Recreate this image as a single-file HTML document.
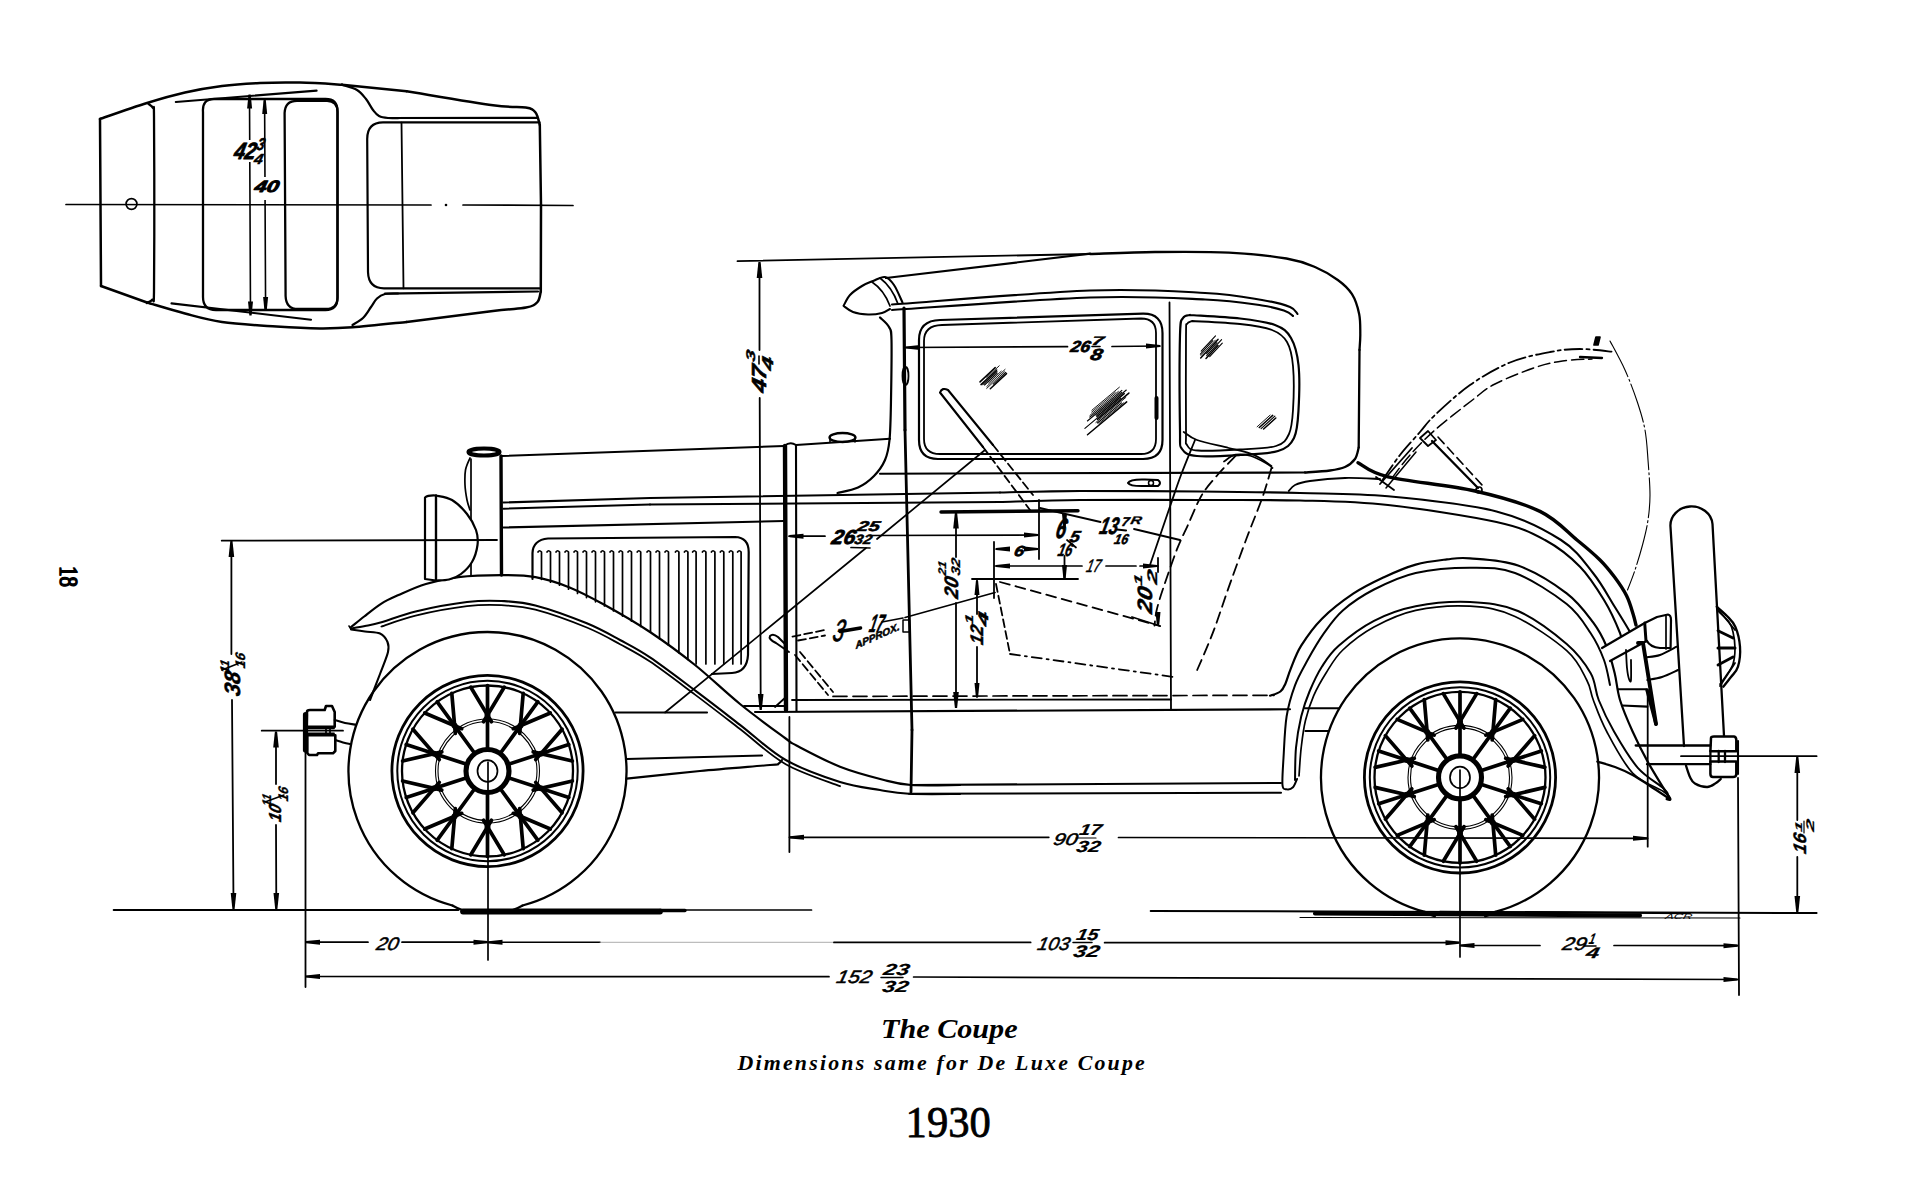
<!DOCTYPE html>
<html><head><meta charset="utf-8"><title>The Coupe 1930</title>
<style>html,body{margin:0;padding:0;background:#fff;overflow:hidden;width:1928px;height:1201px}svg{display:block}</style>
</head><body>
<svg width="1928" height="1201" viewBox="0 0 1928 1201" fill="none" stroke="#000" stroke-linecap="round" stroke-linejoin="round"><rect width="1928" height="1201" fill="#fff" stroke="none"/><g><line x1="66" y1="204.5" x2="431" y2="205" stroke-width="1.7"/>
<circle cx="446" cy="205" r="1.3" stroke-width="0" fill="#000"/>
<line x1="463" y1="205" x2="573" y2="205.5" stroke-width="1.7"/>
<path d="M100,119 C107.8,116.3 132.8,107.4 147,103 C161.2,98.6 172.5,95.3 185,92.5 C197.5,89.7 209.5,87.6 222,86 C234.5,84.4 247,83.6 260,83 C273,82.4 286.3,82.3 300,82.6 C313.7,82.9 335,84.3 342,84.7" stroke-width="2.5"/>
<path d="M342,84.7 L406.6,91.2" stroke-width="2.5"/>
<path d="M406.6,91.2 C421,93.5 473.1,102.6 493,105.3 C512.9,108 518.6,106.4 525.7,107.6 C532.8,108.8 533.1,109.6 535.5,112.5 C537.9,115.4 539.1,122.8 539.8,124.8" stroke-width="2.5"/>
<line x1="539.8" y1="124.8" x2="541" y2="205" stroke-width="2.5"/>
<line x1="541" y1="205" x2="540.8" y2="291.5" stroke-width="2.5"/>
<path d="M540.8,291.5 C540.2,293.2 540,299.3 537.5,302 C535,304.7 533.4,306.1 526,307.6 C518.6,309.1 512.9,308.6 493,311 C473.1,313.4 421,320.1 406.6,321.9" stroke-width="2.5"/>
<path d="M406.6,321.9 C397.6,322.8 366.9,326.2 352.5,327.3 C338.1,328.4 332.7,328.5 320,328.4 C307.3,328.3 292.8,327.6 276.5,326.5 C260.2,325.4 237.2,324.2 222,322 C206.8,319.8 197.5,316.8 185,313.5 C172.5,310.2 153.3,304.3 147,302.5" stroke-width="2.5"/>
<line x1="147" y1="302.5" x2="101" y2="286" stroke-width="2.5"/>
<line x1="100" y1="119" x2="101" y2="286" stroke-width="2.5"/>
<path d="M148,103.5 C148.8,104.2 152,105.9 153,108 C154,110.1 153.8,100.7 154,116 C154.2,131.3 154.3,170.7 154.3,200 C154.3,229.3 154.3,275.4 154,292 C153.7,308.6 153.7,297.7 152.5,299.5 C151.3,301.3 147.9,302.4 147,303" stroke-width="2.3"/>
<circle cx="131.5" cy="204" r="5.4" stroke-width="1.7"/>
<path d="M214,99 H325.5 Q337.5,99 337.5,111 V298 Q337.5,310 325.5,310 H216 Q203,310 203,297 V112 Q202,99 214,99Z" stroke-width="2.3"/>
<path d="M297,100.8 H327 Q337.5,100.8 337.5,112 V297 Q337.5,309 326,309 H298 Q286,309 285.6,296 L284.6,113 Q285,100.8 297,100.8Z" stroke-width="2.3"/>
<line x1="175.8" y1="102" x2="316.6" y2="90.6" stroke-width="2.1"/>
<line x1="171.5" y1="303.4" x2="311" y2="319.7" stroke-width="2.1"/>
<path d="M342,84.7 C344.5,85.6 353,87.6 357,90 C361,92.4 363.3,95.7 366,99 C368.7,102.3 370.8,107.2 373,110 C375.2,112.8 376.5,114.7 379,116 C381.5,117.3 384.5,117.7 388,118 C391.5,118.3 398,118 400,118" stroke-width="2.2"/>
<line x1="388" y1="118" x2="537" y2="117.8" stroke-width="2.2"/>
<path d="M352.5,325 C354.2,323.8 359.9,321 363,318 C366.1,315 368.7,310.2 371,307 C373.3,303.8 374.7,300.7 377,298.5 C379.3,296.3 381.5,294.8 385,294 C388.5,293.2 395.8,293.6 398,293.5" stroke-width="2.2"/>
<line x1="385" y1="293.7" x2="538" y2="291.5" stroke-width="2.2"/>
<path d="M539.5,122.4 H383 Q367.2,122.6 367.2,139 L368,272 Q368.5,288.3 384,288.3 H539.5" stroke-width="2.2"/>
<line x1="401.5" y1="122.6" x2="403.5" y2="288.3" stroke-width="1.8"/>
<line x1="249.5" y1="96" x2="250.5" y2="314" stroke-width="1.6"/>
<path d="M250.7,94.5 L252.1,108.5 L247.1,108.5 L248.5,94.5Z" fill="#000" stroke="none"/>
<path d="M249.4,315.5 L248,301.5 L253,301.5 L251.6,315.5Z" fill="#000" stroke="none"/>
<line x1="264.6" y1="101" x2="265.6" y2="310" stroke-width="1.6"/>
<path d="M265.8,100 L267.2,114 L262.2,114 L263.6,100Z" fill="#000" stroke="none"/>
<path d="M264.5,311 L263.1,297 L268.1,297 L266.7,311Z" fill="#000" stroke="none"/>
<rect x="244" y="140" width="10" height="22" fill="#fff" stroke="none"/>
<rect x="258" y="177" width="14" height="23" fill="#fff" stroke="none"/>
<text fill="#000" transform="translate(233 158.6) rotate(0) skewX(-13)" x="0" y="0" font-family="Liberation Sans" font-size="23.5" font-weight="bold" font-style="italic" textLength="21.6" lengthAdjust="spacingAndGlyphs" stroke="#000" stroke-width="0.9">42</text>
<text fill="#000" transform="translate(255.9 150.4) rotate(0) skewX(-13)" x="0" y="0" font-family="Liberation Sans" font-size="17.2" font-weight="bold" font-style="italic" textLength="7.6" lengthAdjust="spacingAndGlyphs" stroke="#000" stroke-width="0.5">3</text>
<text fill="#000" transform="translate(253.3 163.8) rotate(0) skewX(-13)" x="0" y="0" font-family="Liberation Sans" font-size="14.6" font-weight="bold" font-style="italic" textLength="8.8" lengthAdjust="spacingAndGlyphs" stroke="#000" stroke-width="0.5">4</text>
<text fill="#000" transform="translate(253.7 191.8) rotate(0) skewX(-13)" x="0" y="0" font-family="Liberation Sans" font-size="16.4" font-weight="bold" font-style="italic" textLength="24.2" lengthAdjust="spacingAndGlyphs" stroke="#000" stroke-width="0.9">40</text>
<path d="M522.6,905.5 A139,139 0 1 0 452.4,905.5" stroke-width="2.3"/>
<path d="M452.4,905.5 Q458.4,909 462.4,910" stroke-width="2.1"/>
<path d="M522.6,905.5 Q516.6,909 512.6,910" stroke-width="2.1"/>
<circle cx="487.5" cy="771" r="95.6" stroke-width="2.8"/>
<circle cx="487.5" cy="771" r="90.2" stroke-width="2"/>
<circle cx="487.5" cy="771" r="85.5" stroke-width="2.3"/>
<circle cx="487.5" cy="771" r="49.5" stroke-width="1.1"/>
<circle cx="487.5" cy="771" r="52" stroke-width="1.1"/>
<line x1="487.5" y1="750" x2="487.5" y2="685.5" stroke-width="3.7"/>
<line x1="491.5" y1="721.7" x2="470.8" y2="687.2" stroke-width="3.7"/>
<line x1="483.5" y1="721.7" x2="504.2" y2="687.2" stroke-width="3.7"/>
<circle cx="487.5" cy="715" r="3" stroke-width="0" fill="#000"/>
<line x1="499.8" y1="754" x2="537.8" y2="701.8" stroke-width="3.7"/>
<line x1="519.7" y1="733.4" x2="523.2" y2="693.3" stroke-width="3.7"/>
<line x1="513.3" y1="728.7" x2="550.3" y2="713" stroke-width="3.7"/>
<circle cx="520.4" cy="725.7" r="3" stroke-width="0" fill="#000"/>
<line x1="507.5" y1="764.5" x2="568.8" y2="744.6" stroke-width="3.7"/>
<line x1="535.7" y1="759.6" x2="562.1" y2="729.2" stroke-width="3.7"/>
<line x1="533.2" y1="751.9" x2="572.4" y2="761" stroke-width="3.7"/>
<circle cx="540.8" cy="753.7" r="3" stroke-width="0" fill="#000"/>
<line x1="507.5" y1="777.5" x2="568.8" y2="797.4" stroke-width="3.7"/>
<line x1="533.2" y1="790.1" x2="572.4" y2="781" stroke-width="3.7"/>
<line x1="535.7" y1="782.4" x2="562.1" y2="812.8" stroke-width="3.7"/>
<circle cx="540.8" cy="788.3" r="3" stroke-width="0" fill="#000"/>
<line x1="499.8" y1="788" x2="537.8" y2="840.2" stroke-width="3.7"/>
<line x1="513.3" y1="813.3" x2="550.3" y2="829" stroke-width="3.7"/>
<line x1="519.7" y1="808.6" x2="523.2" y2="848.7" stroke-width="3.7"/>
<circle cx="520.4" cy="816.3" r="3" stroke-width="0" fill="#000"/>
<line x1="487.5" y1="792" x2="487.5" y2="856.5" stroke-width="3.7"/>
<line x1="483.5" y1="820.3" x2="504.2" y2="854.8" stroke-width="3.7"/>
<line x1="491.5" y1="820.3" x2="470.8" y2="854.8" stroke-width="3.7"/>
<circle cx="487.5" cy="827" r="3" stroke-width="0" fill="#000"/>
<line x1="475.2" y1="788" x2="437.2" y2="840.2" stroke-width="3.7"/>
<line x1="455.3" y1="808.6" x2="451.8" y2="848.7" stroke-width="3.7"/>
<line x1="461.7" y1="813.3" x2="424.7" y2="829" stroke-width="3.7"/>
<circle cx="454.6" cy="816.3" r="3" stroke-width="0" fill="#000"/>
<line x1="467.5" y1="777.5" x2="406.2" y2="797.4" stroke-width="3.7"/>
<line x1="439.3" y1="782.4" x2="412.9" y2="812.8" stroke-width="3.7"/>
<line x1="441.8" y1="790.1" x2="402.6" y2="781" stroke-width="3.7"/>
<circle cx="434.2" cy="788.3" r="3" stroke-width="0" fill="#000"/>
<line x1="467.5" y1="764.5" x2="406.2" y2="744.6" stroke-width="3.7"/>
<line x1="441.8" y1="751.9" x2="402.6" y2="761" stroke-width="3.7"/>
<line x1="439.3" y1="759.6" x2="412.9" y2="729.2" stroke-width="3.7"/>
<circle cx="434.2" cy="753.7" r="3" stroke-width="0" fill="#000"/>
<line x1="475.2" y1="754" x2="437.2" y2="701.8" stroke-width="3.7"/>
<line x1="461.7" y1="728.7" x2="424.7" y2="713" stroke-width="3.7"/>
<line x1="455.3" y1="733.4" x2="451.8" y2="693.3" stroke-width="3.7"/>
<circle cx="454.6" cy="725.7" r="3" stroke-width="0" fill="#000"/>
<circle cx="487.5" cy="771" r="21.5" stroke-width="5.1" fill="#fff"/>
<ellipse cx="487.5" cy="771" rx="10" ry="10.8" stroke-width="1.7"/>
<path d="M1495.1,911.9 A139,139 0 1 0 1424.9,911.9" stroke-width="2.3"/>
<path d="M1424.9,911.9 Q1430.9,915.4 1434.9,916.4" stroke-width="2.1"/>
<path d="M1495.1,911.9 Q1489.1,915.4 1485.1,916.4" stroke-width="2.1"/>
<circle cx="1460" cy="777.4" r="95.6" stroke-width="2.8"/>
<circle cx="1460" cy="777.4" r="90.2" stroke-width="2"/>
<circle cx="1460" cy="777.4" r="85.5" stroke-width="2.3"/>
<circle cx="1460" cy="777.4" r="49.5" stroke-width="1.1"/>
<circle cx="1460" cy="777.4" r="52" stroke-width="1.1"/>
<line x1="1460" y1="756.4" x2="1460" y2="691.9" stroke-width="3.7"/>
<line x1="1464" y1="728.1" x2="1443.3" y2="693.6" stroke-width="3.7"/>
<line x1="1456" y1="728.1" x2="1476.7" y2="693.6" stroke-width="3.7"/>
<circle cx="1460" cy="721.4" r="3" stroke-width="0" fill="#000"/>
<line x1="1472.3" y1="760.4" x2="1510.3" y2="708.2" stroke-width="3.7"/>
<line x1="1492.2" y1="739.8" x2="1495.7" y2="699.7" stroke-width="3.7"/>
<line x1="1485.8" y1="735.1" x2="1522.8" y2="719.4" stroke-width="3.7"/>
<circle cx="1492.9" cy="732.1" r="3" stroke-width="0" fill="#000"/>
<line x1="1480" y1="770.9" x2="1541.3" y2="751" stroke-width="3.7"/>
<line x1="1508.2" y1="766" x2="1534.6" y2="735.6" stroke-width="3.7"/>
<line x1="1505.7" y1="758.3" x2="1544.9" y2="767.4" stroke-width="3.7"/>
<circle cx="1513.3" cy="760.1" r="3" stroke-width="0" fill="#000"/>
<line x1="1480" y1="783.9" x2="1541.3" y2="803.8" stroke-width="3.7"/>
<line x1="1505.7" y1="796.5" x2="1544.9" y2="787.4" stroke-width="3.7"/>
<line x1="1508.2" y1="788.8" x2="1534.6" y2="819.2" stroke-width="3.7"/>
<circle cx="1513.3" cy="794.7" r="3" stroke-width="0" fill="#000"/>
<line x1="1472.3" y1="794.4" x2="1510.3" y2="846.6" stroke-width="3.7"/>
<line x1="1485.8" y1="819.7" x2="1522.8" y2="835.4" stroke-width="3.7"/>
<line x1="1492.2" y1="815" x2="1495.7" y2="855.1" stroke-width="3.7"/>
<circle cx="1492.9" cy="822.7" r="3" stroke-width="0" fill="#000"/>
<line x1="1460" y1="798.4" x2="1460" y2="862.9" stroke-width="3.7"/>
<line x1="1456" y1="826.7" x2="1476.7" y2="861.2" stroke-width="3.7"/>
<line x1="1464" y1="826.7" x2="1443.3" y2="861.2" stroke-width="3.7"/>
<circle cx="1460" cy="833.4" r="3" stroke-width="0" fill="#000"/>
<line x1="1447.7" y1="794.4" x2="1409.7" y2="846.6" stroke-width="3.7"/>
<line x1="1427.8" y1="815" x2="1424.3" y2="855.1" stroke-width="3.7"/>
<line x1="1434.2" y1="819.7" x2="1397.2" y2="835.4" stroke-width="3.7"/>
<circle cx="1427.1" cy="822.7" r="3" stroke-width="0" fill="#000"/>
<line x1="1440" y1="783.9" x2="1378.7" y2="803.8" stroke-width="3.7"/>
<line x1="1411.8" y1="788.8" x2="1385.4" y2="819.2" stroke-width="3.7"/>
<line x1="1414.3" y1="796.5" x2="1375.1" y2="787.4" stroke-width="3.7"/>
<circle cx="1406.7" cy="794.7" r="3" stroke-width="0" fill="#000"/>
<line x1="1440" y1="770.9" x2="1378.7" y2="751" stroke-width="3.7"/>
<line x1="1414.3" y1="758.3" x2="1375.1" y2="767.4" stroke-width="3.7"/>
<line x1="1411.8" y1="766" x2="1385.4" y2="735.6" stroke-width="3.7"/>
<circle cx="1406.7" cy="760.1" r="3" stroke-width="0" fill="#000"/>
<line x1="1447.7" y1="760.4" x2="1409.7" y2="708.2" stroke-width="3.7"/>
<line x1="1434.2" y1="735.1" x2="1397.2" y2="719.4" stroke-width="3.7"/>
<line x1="1427.8" y1="739.8" x2="1424.3" y2="699.7" stroke-width="3.7"/>
<circle cx="1427.1" cy="732.1" r="3" stroke-width="0" fill="#000"/>
<circle cx="1460" cy="777.4" r="21.5" stroke-width="5.1" fill="#fff"/>
<ellipse cx="1460" cy="777.4" rx="10" ry="10.8" stroke-width="1.7"/>
<path d="M350.5,627.5 C352.8,625.7 359.1,620.5 364.2,616.5 C369.3,612.5 375.7,607.2 381.4,603.6 C387.1,600 391.1,598.4 398.5,595.1 C405.9,591.8 415.9,587 425.9,584 C435.9,581 445.8,578.6 458.4,577.1 C470.9,575.6 488.4,575.1 501.2,575.1 C514,575.1 524,575.1 535.4,577.1 C546.8,579.1 558.2,582.8 569.6,587.4 C581,592 590.5,597.1 603.9,604.5 C617.3,611.9 634.8,621.9 650,632 C665.2,642.1 680,653 695,665 C710,677 725,691.8 740,704 C755,716.2 775.6,731.1 785,738 C794.4,744.9 787.3,740.7 796.5,745.5 C805.7,750.3 825.6,761 840,766.7 C854.4,772.4 871.2,776.7 883,779.7 C894.8,782.8 898.2,784.1 911,785 C923.8,785.9 951.8,785 960,785" stroke-width="2.2"/>
<path d="M351,628.5 C353.3,628.1 359.9,627 365,626 C370.1,625 373,624.7 381.4,622.3 C389.8,619.9 401.3,614.8 415.6,611.4 C429.9,608 452.7,603.7 467,602 C481.3,600.3 489.8,600.4 501.2,601 C512.6,601.6 521.1,601.7 535.4,605.4 C549.7,609.1 572.7,617.5 586.8,623.3 C600.9,629.1 609.5,634.3 620,640 C630.5,645.7 637.5,649 650,657.4 C662.5,665.8 680,679.2 695,690.4 C710,701.6 724.9,713.2 740,724.8 C755.1,736.4 769,750.5 785.7,760 C802.4,769.5 824.3,777 840,782 C855.7,787 868.5,788 880,790 C891.5,792 895.7,793.1 909,793.8 C922.3,794.5 951.5,794 960,794" stroke-width="2.1"/>
<path d="M381.4,626.5 C387.1,624.7 401.3,619 415.6,615.6 C429.9,612.2 452.7,607.9 467,606.2 C481.3,604.5 489.8,604.6 501.2,605.2 C512.6,605.8 521.1,605.9 535.4,609.6 C549.7,613.3 572.7,621.7 586.8,627.5 C600.9,633.3 609.5,638.5 620,644.2 C630.5,649.9 637.5,653.2 650,661.6 C662.5,670 680,683.4 695,694.6 C710,705.8 724.9,717.4 740,729 C755.1,740.6 769,754.7 785.7,764.2 C802.4,773.7 831,782.5 840,786.2" stroke-width="1.8"/>
<path d="M351,629.5 C353.3,629.8 360.2,630.8 365,631.5 C369.8,632.2 376.2,631.8 380,633.5 C383.8,635.2 386.2,638.9 387.5,642 C388.8,645.1 389.2,646.7 388,652 C386.8,657.3 383,666 380,674 C377,682 371.7,695.7 370,700" stroke-width="2.1"/>
<line x1="351" y1="629" x2="349" y2="626" stroke-width="1.6"/>
<line x1="911" y1="785" x2="1281" y2="783" stroke-width="2.1"/>
<line x1="909" y1="793.8" x2="1281" y2="792.7" stroke-width="2.1"/>
<line x1="615.5" y1="712.5" x2="707" y2="712.5" stroke-width="2.1"/>
<line x1="755" y1="712" x2="1290" y2="709.3" stroke-width="2.1"/>
<line x1="792" y1="700" x2="1171" y2="699.5" stroke-width="1.8"/>
<line x1="744" y1="706" x2="785" y2="706" stroke-width="1.8"/>
<line x1="833" y1="696.4" x2="1274" y2="695.3" stroke-width="1.7" stroke-dasharray="14 6"/>
<line x1="626.6" y1="759" x2="762" y2="755.5" stroke-width="2.1"/>
<path d="M626.6,778.6 C638.8,777.3 676.1,773.3 700,771 C723.9,768.7 757,766.2 770,765 C783,763.8 776,764.8 778,764 C780,763.2 781.3,760.7 782,760" stroke-width="2.1"/>
<path d="M1270,695.7 C1271.7,695 1277.8,693.6 1280.4,691.5 C1283,689.4 1283.9,687 1285.6,683.2 C1287.3,679.4 1288.2,674.9 1290.8,668.6 C1293.4,662.4 1296,654 1301.2,645.7 C1306.4,637.4 1313.3,627.4 1322,618.7 C1330.7,610 1342.8,600.7 1353.2,593.7 C1363.6,586.8 1374.1,581.9 1384.5,577 C1394.9,572.1 1405.3,567.5 1415.7,564.6 C1426.1,561.7 1437.9,560.5 1446.9,559.4 C1456,558.3 1458.2,557.3 1470,558.3 C1481.8,559.3 1501.9,559.7 1518,565.5 C1534.1,571.3 1554.2,583.8 1566.7,593.3 C1579.2,602.8 1586.6,613.8 1593.3,622.7 C1600,631.6 1603.1,638.3 1606.7,646.7 C1610.3,655.1 1612.5,664.4 1614.7,673.3 C1616.9,682.2 1617,690.3 1620,700 C1623,709.7 1627.9,721.1 1632.6,731.5 C1637.3,741.9 1642.1,751.7 1648.2,762.6 C1654.3,773.5 1665.5,791.3 1669,797" stroke-width="2.2"/>
<path d="M1297,779 C1296.3,780.4 1294.7,785.6 1293,787.3 C1291.3,789 1288.3,789.6 1286.6,789.3 C1284.8,788.9 1283,790.4 1282.5,785.2 C1282,780 1282.8,769.5 1283.5,758 C1284.2,746.5 1284.7,728.6 1286.6,716.5 C1288.5,704.4 1291.5,694.7 1295,685.3 C1298.5,675.9 1302.7,669 1307.5,660.3 C1312.3,651.6 1318.1,641.5 1324,633.2 C1329.9,624.9 1334.5,617.7 1342.8,610.4 C1351.1,603.1 1361.8,595.8 1374,589.5 C1386.2,583.2 1399.7,576.5 1415.7,572.9 C1431.7,569.3 1453.5,567.7 1470,567.7 C1486.5,567.7 1498.9,567 1515,573 C1531.1,579 1554.1,594 1566.7,604 C1579.3,614 1584.5,624 1590.7,633.3 C1596.9,642.6 1600.8,651.4 1604,660 C1607.2,668.6 1609,680.8 1610,685" stroke-width="2"/>
<path d="M1295,780 C1295.2,774.6 1295,758.3 1296,747.7 C1297,737.1 1299,725.9 1301.2,716.5 C1303.5,707.1 1306,699.8 1309.5,691.5 C1313,683.2 1317.1,674.1 1322,666.5 C1326.9,658.9 1330,653.3 1338.7,645.7 C1347.4,638.1 1361.2,627.4 1374,620.8 C1386.8,614.2 1399.7,609.3 1415.7,606.2 C1431.7,603.1 1453,601.2 1470,602 C1487,602.8 1501.9,604 1518,611 C1534.1,618 1554.6,633.6 1566.7,644 C1578.8,654.4 1585.4,664 1590.7,673.3 C1596,682.6 1594.8,690.3 1598.7,700 C1602.6,709.7 1607.5,720.2 1614,731.5 C1620.5,742.8 1629.5,758.3 1637.8,767.8 C1646.1,777.3 1658.5,783.6 1663.7,788.5 C1668.9,793.4 1668.1,795.6 1669,797" stroke-width="2"/>
<path d="M1299,776 C1299.4,771.3 1300.1,756.9 1301.2,747.7 C1302.3,738.5 1303.3,729.4 1305.4,720.7 C1307.5,712 1310.2,703.7 1313.7,695.7 C1317.2,687.7 1321.4,680.4 1326.2,672.8 C1331,665.2 1334.8,657.6 1342.8,650 C1350.8,642.4 1361.8,633.6 1374,627 C1386.2,620.4 1399.7,613.9 1415.7,610.4 C1431.7,606.9 1453.5,605.2 1470,606.2 C1486.5,607.2 1498.9,609.1 1515,616.5 C1531.1,623.9 1554.8,640.1 1566.7,650.7 C1578.7,661.3 1582.3,671.8 1586.7,680 C1591.1,688.2 1590,691.4 1593.3,700 C1596.6,708.6 1600.2,719.3 1606.7,731.5 C1613.2,743.7 1623.1,763 1632.6,773 C1642.1,783 1657.5,787.5 1663.7,791.7 C1669.9,795.9 1669,797 1670,798" stroke-width="1.7"/>
<line x1="1305" y1="708.3" x2="1338.7" y2="708.3" stroke-width="2"/>
<line x1="1305.4" y1="731" x2="1328.3" y2="731" stroke-width="2"/>
<path d="M1597.3,761.6 C1600.2,762.5 1609.1,764.8 1615,767 C1620.9,769.2 1626.8,771.8 1632.6,775 C1638.4,778.2 1643.9,782.1 1650,786 C1656.1,789.9 1665.8,796.4 1669,798.5" stroke-width="2.2"/>
<path d="M1669,797 Q1672,801 1667,799" stroke-width="2.9"/>
<ellipse cx="484" cy="452" rx="15.5" ry="3.5" stroke-width="4.1"/>
<line x1="501" y1="456" x2="501.5" y2="575" stroke-width="3.4"/>
<line x1="471" y1="459" x2="471" y2="576" stroke-width="1.7"/>
<path d="M470,458 C469.2,460 466.3,465.5 465.5,470 C464.7,474.5 464.8,480 465,485 C465.2,490 466.2,495.8 467,500 C467.8,504.2 469.5,508.3 470,510" stroke-width="1.7"/>
<path d="M436,495.5 C438.7,496.2 446.8,496.9 452,500 C457.2,503.1 463,509 467,514 C471,519 474.2,524.8 476,530 C477.8,535.2 478.2,539.7 477.5,545 C476.8,550.3 474.8,557.2 472,562 C469.2,566.8 464.8,571.1 461,574 C457.2,576.9 453.2,578.4 449,579.5 C444.8,580.6 438.2,580.3 436,580.5" stroke-width="2.2" fill="#fff"/>
<path d="M425,497.5 L425,579 L436,580.5 L436,495.5 Q428,495 425,497.5Z" stroke-width="2.2" fill="#fff"/>
<line x1="436" y1="495.5" x2="436" y2="580.5" stroke-width="2.2"/>
<line x1="501.5" y1="456" x2="784" y2="446" stroke-width="2.1"/>
<line x1="503.5" y1="502.5" x2="650" y2="498" stroke-width="2.1"/>
<line x1="650" y1="498" x2="1000" y2="492.5" stroke-width="2.1"/>
<line x1="503.5" y1="508.7" x2="650" y2="504.5" stroke-width="2.1"/>
<line x1="650" y1="504.5" x2="1000" y2="502" stroke-width="2.1"/>
<line x1="503.5" y1="527.5" x2="784" y2="521" stroke-width="2.1"/>
<path d="M532.5,579 L532.5,553 Q533,540 548,538.5 L735,537 Q748.7,537.5 748.7,552 L748,655 Q747,672 732,673 L712,674" stroke-width="2.2"/>
<path d="M538,552 q1.5,-2.5 3.5,0 L541.5,579.3" stroke-width="1.7"/>
<path d="M547,552 q1.5,-2.5 3.5,0 L550.5,582.2" stroke-width="1.7"/>
<path d="M556,552 q1.5,-2.5 3.5,0 L559.5,585.2" stroke-width="1.7"/>
<path d="M565,552 q1.5,-2.5 3.5,0 L568.5,589.2" stroke-width="1.7"/>
<path d="M574,552 q1.5,-2.5 3.5,0 L577.5,593.4" stroke-width="1.7"/>
<path d="M583,552 q1.5,-2.5 3.5,0 L586.5,597.6" stroke-width="1.7"/>
<path d="M592,552 q1.5,-2.5 3.5,0 L595.5,601.8" stroke-width="1.7"/>
<path d="M601,552 q1.5,-2.5 3.5,0 L604.5,606" stroke-width="1.7"/>
<path d="M610,552 q1.5,-2.5 3.5,0 L613.5,611" stroke-width="1.7"/>
<path d="M619,552 q1.5,-2.5 3.5,0 L622.5,616.1" stroke-width="1.7"/>
<path d="M628,552 q1.5,-2.5 3.5,0 L631.5,621.2" stroke-width="1.7"/>
<path d="M637.2,552 q1.5,-2.5 3.5,0 L640.7,626.4" stroke-width="1.7"/>
<path d="M647,552 q1.5,-2.5 3.5,0 L650.5,632" stroke-width="1.7"/>
<path d="M656,552 q1.5,-2.5 3.5,0 L659.5,638.6" stroke-width="1.7"/>
<path d="M665,552 q1.5,-2.5 3.5,0 L668.5,645.2" stroke-width="1.7"/>
<path d="M675.4,552 q1.5,-2.5 3.5,0 L678.9,652.8" stroke-width="1.7"/>
<path d="M684.4,552 q1.5,-2.5 3.5,0 L687.9,659.4" stroke-width="1.7"/>
<path d="M692.6,552 q1.5,-2.5 3.5,0 L696.1,664" stroke-width="1.7"/>
<path d="M702.4,552 q1.5,-2.5 3.5,0 L705.9,664" stroke-width="1.7"/>
<path d="M711.4,552 q1.5,-2.5 3.5,0 L714.9,664" stroke-width="1.7"/>
<path d="M720.3,552 q1.5,-2.5 3.5,0 L723.8,664" stroke-width="1.7"/>
<path d="M729.3,552 q1.5,-2.5 3.5,0 L732.8,664" stroke-width="1.7"/>
<path d="M737.6,552 q1.5,-2.5 3.5,0 L741.1,664" stroke-width="1.7"/>
<line x1="785" y1="446" x2="786" y2="710" stroke-width="4.4"/>
<line x1="796" y1="445" x2="796.5" y2="711" stroke-width="2.1"/>
<path d="M784.5,446 Q790,441 796,445" stroke-width="2.1"/>
<line x1="796" y1="445" x2="890" y2="438.7" stroke-width="2.1"/>
<ellipse cx="842.5" cy="437.5" rx="13" ry="4.5" stroke-width="2.3"/>
<path d="M830,437 L830,442 M855,437 L855,442" stroke-width="1.6"/>
<path d="M880,317.5 C881.5,319.1 887.1,323.2 889,327 C890.9,330.8 891.2,327.8 891.5,340 C891.8,352.2 891.3,383.3 891,400 C890.7,416.7 890.5,430 889.5,440 C888.5,450 887.6,454 885,460 C882.4,466 878.5,471.4 874,476 C869.5,480.6 864.1,484.7 858,487.5 C851.9,490.3 840.9,492.1 837.5,493" stroke-width="2.2"/>
<line x1="904" y1="308" x2="905" y2="430" stroke-width="3.2"/>
<line x1="905" y1="430" x2="912" y2="730" stroke-width="2.8"/>
<line x1="912" y1="730" x2="911" y2="792" stroke-width="2.8"/>
<ellipse cx="905.5" cy="376" rx="3" ry="9" stroke-width="1.8"/>
<path d="M843.7,305.5 C844.8,303.8 847,298.2 850,295 C853,291.8 858.2,288.3 862,286 C865.8,283.7 869.2,282.5 873,281 C876.8,279.5 881.5,276.3 885,277 C888.5,277.7 891.1,280.8 894,285 C896.9,289.2 901.1,299.6 902.5,302.5" stroke-width="2.1"/>
<path d="M843.7,306 C845.2,307 849,310.6 853,312 C857,313.4 863.2,314.3 868,314.5 C872.8,314.7 878.3,313.9 882,313 C885.7,312.1 888.7,309.7 890,309" stroke-width="2.1"/>
<path d="M872,282 Q884,290 890,306 M880,278 Q892,287 898,304" stroke-width="1.7"/>
<line x1="886" y1="278" x2="1090" y2="253.7" stroke-width="2.2"/>
<path d="M1090,254 C1100.8,253.7 1131.8,252.2 1155,252 C1178.2,251.8 1207.1,251.5 1229,252.6 C1250.9,253.7 1272.2,256.1 1286.5,258.5 C1300.8,260.9 1306.5,263.4 1315,267 C1323.5,270.6 1331.6,275.5 1337.8,280 C1344,284.5 1348.4,288.5 1352,294.2 C1355.6,299.9 1357.8,307.4 1359.2,314.2 C1360.6,321 1360.2,329 1360.3,335 C1360.3,341 1359.6,347.5 1359.5,350" stroke-width="2.3"/>
<line x1="1359.5" y1="350" x2="1358.7" y2="447.5" stroke-width="2.3"/>
<path d="M1358.7,447.5 C1358.1,449.4 1357.3,455.8 1355,459 C1352.7,462.2 1349.2,465.1 1345,467 C1340.8,468.9 1336.7,469.6 1330,470.5 C1323.3,471.4 1309.2,472.2 1305,472.5" stroke-width="2.3"/>
<line x1="880" y1="473.7" x2="1305" y2="472.5" stroke-width="2.1"/>
<path d="M892,304.5 C925,302.2 1037.8,292.4 1090,290.5 C1142.2,288.6 1176.3,291.4 1205,293 C1233.7,294.6 1247.8,297.7 1262,300 C1276.2,302.3 1284.1,304.7 1290,307 C1295.9,309.3 1296.2,312.8 1297.5,314" stroke-width="2.1"/>
<path d="M892,310 C925,307.9 1037.8,299.2 1090,297.5 C1142.2,295.8 1176.3,298.2 1205,299.5 C1233.7,300.8 1248.7,303.6 1262,305.5 C1275.3,307.4 1279.8,309.2 1285,311 C1290.2,312.8 1291.7,315.2 1293,316" stroke-width="2.1"/>
<path d="M940,320 L1143,313.7 Q1162.5,313.5 1162.5,333 L1162.5,440 Q1162.5,459 1143,459 L938,459 Q919,459 919,440 L919,340 Q919,320.5 940,320Z" stroke-width="2.2"/>
<path d="M942,325 L1141,318.5 Q1156,318.5 1156,333 L1156,439 Q1156,454 1141,454 L940,454 Q924,454 924,439 L924,341 Q924,325.5 942,325Z" stroke-width="1.8"/>
<line x1="1156.5" y1="398" x2="1156.5" y2="418" stroke-width="4"/>
<line x1="1169.5" y1="302.5" x2="1171" y2="709" stroke-width="1.8"/>
<path d="M1190,315 C1198.3,315.6 1225.8,316.8 1240,318.5 C1254.2,320.2 1266.5,321.8 1275,325 C1283.5,328.2 1287.1,331.3 1291,338 C1294.9,344.7 1297.2,353 1298.5,365 C1299.8,377 1299.2,397.8 1298.5,410 C1297.8,422.2 1297.4,431.2 1294,438 C1290.6,444.8 1287,448.2 1278,451 C1269,453.8 1253.5,454.2 1240,455 C1226.5,455.8 1206.7,457 1197,456 C1187.3,455 1184.8,453.3 1182,449 C1179.2,444.7 1180.3,449 1180,430 C1179.7,411 1179.5,353.7 1180,335 C1180.5,316.3 1181.3,321.3 1183,318 C1184.7,314.7 1188.8,315.5 1190,315" stroke-width="2.2"/>
<path d="M1192,321 C1200,321.5 1226.7,322.5 1240,324 C1253.3,325.5 1264.2,327 1272,330 C1279.8,333 1283.5,336 1287,342 C1290.5,348 1292,354.7 1293,366 C1294,377.3 1293.7,398.7 1293,410 C1292.3,421.3 1291.8,428 1289,434 C1286.2,440 1284.2,443.4 1276,446 C1267.8,448.6 1253,448.8 1240,449.5 C1227,450.2 1206.8,451.2 1198,450.5 C1189.2,449.8 1189,448.4 1187,445 C1185,441.6 1186.2,448.2 1186,430 C1185.8,411.8 1185.8,353.7 1186,336 C1186.2,318.3 1186,326.5 1187,324 C1188,321.5 1191.2,321.5 1192,321" stroke-width="1.8"/>
<path d="M1128,483 Q1130,479 1145,479.5 L1158,480 Q1162,483 1158,486 L1145,486 Q1130,486.5 1128,483Z" stroke-width="2.1"/>
<circle cx="1151" cy="483" r="2.5" stroke-width="1.5"/>
<path d="M1000,492.5 C1013.3,492.2 1046.7,491.2 1080,491 C1113.3,490.8 1163.3,491.2 1200,491.5 C1236.7,491.8 1268.7,492.2 1300,493 C1331.3,493.8 1355.2,493.2 1388,496.3 C1420.8,499.4 1467.7,504.1 1496.5,511.4 C1525.3,518.7 1544.9,529.7 1561,540 C1577.1,550.3 1584,561.9 1593,573 C1602,584.1 1608.4,596.7 1614.7,606.7 C1621,616.8 1627.3,626.9 1630.7,633.3 C1634.1,639.7 1634.3,643 1635,645" stroke-width="2.1"/>
<path d="M1000,502 C1013.3,501.7 1046.7,500.3 1080,500 C1113.3,499.7 1163.3,499.9 1200,500 C1236.7,500.1 1268.7,499.7 1300,500.5 C1331.3,501.3 1355.2,501.4 1388,505 C1420.8,508.6 1470.3,516.2 1496.5,522 C1522.7,527.8 1531.1,532.5 1545,540 C1558.9,547.5 1570.2,556.7 1580,566.7 C1589.8,576.7 1597.3,589 1604,600 C1610.7,611 1616.7,624.7 1620,633 C1623.3,641.3 1623.3,647.2 1624,650" stroke-width="2.1"/>
<path d="M1358,462.7 C1363,465.1 1368.5,472.1 1388,476.8 C1407.5,481.5 1449.7,485.2 1475,491 C1500.3,496.8 1523,503.2 1540,511.4 C1557,519.6 1567,531.9 1577,540 C1587,548.1 1593.7,553.8 1600,560 C1606.3,566.2 1610.2,571.3 1614.7,577.3 C1619.2,583.3 1623.6,589.8 1626.7,596 C1629.8,602.2 1631.8,609.9 1633.3,614.7 C1634.8,619.5 1635.5,623.3 1636,625" stroke-width="3.4"/>
<path d="M1288.7,491 C1289.8,490 1291.5,486.7 1295,485 C1298.5,483.3 1301.7,482.2 1310,481 C1318.3,479.8 1333.3,478.3 1345,478 C1356.7,477.7 1374.2,478.8 1380,479" stroke-width="1.8"/>
<path d="M1382.5,480 C1385.4,475.8 1393.8,463 1400,455 C1406.2,447 1414.2,438.7 1420,432 C1425.8,425.3 1426.7,422.8 1435,415 C1443.3,407.2 1457.5,393.8 1470,385 C1482.5,376.2 1496.7,368 1510,362.5 C1523.3,357 1538.3,354.2 1550,352 C1561.7,349.8 1569.2,349 1580,349 C1590.8,349 1609.2,351.5 1615,352" stroke-width="1.8" stroke-dasharray="18 4 3 4"/>
<path d="M1392,478 C1395,474.2 1402.8,463 1410,455 C1417.2,447 1424.6,439.2 1435,430 C1445.4,420.8 1462.5,407.7 1472.5,400 C1482.5,392.3 1484.6,389.4 1495,384 C1505.4,378.6 1523.8,371.3 1535,367.5 C1546.2,363.7 1553,362.4 1562.5,361 C1572,359.6 1587.1,359.3 1592,359" stroke-width="1.5" stroke-dasharray="12 5"/>
<line x1="1580" y1="357" x2="1602" y2="358" stroke-width="2.3"/>
<path d="M1594,345 L1596,337 L1600,337 L1598,345Z" stroke-width="1.7" fill="#000"/>
<path d="M1610,341 C1612.5,345.8 1620.4,359.8 1625,370 C1629.6,380.2 1634.2,392.5 1637.5,402.5 C1640.8,412.5 1643.2,420.4 1645,430 C1646.8,439.6 1647.2,449.2 1648,460 C1648.8,470.8 1650,485 1650,495 C1650,505 1649.2,511.7 1648,520 C1646.8,528.3 1644.7,536.7 1642.5,545 C1640.3,553.3 1637.5,562.5 1635,570 C1632.5,577.5 1628.8,586.7 1627.5,590" stroke-width="1.1" stroke-dasharray="40 3 2 3"/>
<path d="M1420,438 L1428,431 L1436,440 L1428,446Z" stroke-width="1.8"/>
<line x1="1432" y1="441" x2="1478" y2="488" stroke-width="2.3"/>
<line x1="1438" y1="437" x2="1482" y2="485" stroke-width="1.6" stroke-dasharray="9 5"/>
<circle cx="1479" cy="490" r="3" stroke-width="1.7"/>
<line x1="1380" y1="484" x2="1412" y2="448" stroke-width="1.8"/>
<line x1="1386" y1="488" x2="1416" y2="452" stroke-width="1.5"/>
<line x1="1376" y1="477" x2="1394" y2="490" stroke-width="1.8"/>
<path d="M1235.5,455.9 C1232.5,459.1 1223.1,468.4 1217.5,475 C1211.9,481.6 1206.6,487 1201.7,495.2 C1196.8,503.4 1192.3,515.4 1188.2,524.4 C1184.1,533.4 1181.1,538.7 1177,549.2 C1172.9,559.7 1166.9,577.3 1163.5,587.4 C1160.1,597.5 1158.2,603.6 1156.7,610 C1155.2,616.4 1154.9,623 1154.5,625.6" stroke-width="1.8" stroke-dasharray="11 6"/>
<path d="M1271.4,468.2 C1269.9,473.1 1266.5,485.9 1262.4,497.5 C1258.3,509.1 1252.3,523 1246.7,538 C1241.1,553 1234.3,571.7 1228.7,587.4 C1223.1,603.1 1218.6,617.8 1213,632.4 C1207.4,647 1198,667.9 1195,675" stroke-width="1.8" stroke-dasharray="11 6"/>
<path d="M1195,440 C1192.7,445.8 1185.2,463.9 1181,475 C1176.8,486.1 1175.2,491.5 1170,506.5 C1164.8,521.5 1153.3,555.2 1150,565" stroke-width="1.8"/>
<path d="M1183.7,432 C1185.9,433.3 1189.5,437.3 1197,440 C1204.5,442.7 1219.3,445.6 1228.7,448 C1238.1,450.4 1246.3,451.7 1253.4,454.7 C1260.5,457.7 1268.4,464.1 1271.4,466" stroke-width="1.8"/>
<path d="M1224,461.5 C1225.9,460.4 1231,455.6 1235.5,454.7 C1240,453.8 1245.8,454.5 1251,456 C1256.2,457.5 1263.4,461.7 1267,463.7 C1270.6,465.7 1271.6,467.3 1272.5,468" stroke-width="1.7"/>
<path d="M1684,746 L1670.5,527 A21,19 0 0 1 1712.5,524 L1724,736" stroke-width="2.3"/>
<path d="M1686,765.7 C1686.7,767.6 1688.5,774 1690,777 C1691.5,780 1692,781.7 1694.9,783.4 C1697.8,785.1 1703.8,787.1 1707.3,787 C1710.8,786.9 1713.8,784.3 1716,783 C1718.2,781.7 1720,779.7 1720.8,779" stroke-width="2.3"/>
<path d="M1716.7,606.7 C1718.4,608.2 1723.9,612.7 1727,616 C1730.1,619.3 1733.1,621.6 1735.3,626.7 C1737.5,631.8 1739.5,640 1740,646.7 C1740.5,653.4 1739.5,661.7 1738,666.7 C1736.5,671.8 1733.5,673.7 1731,677 C1728.5,680.3 1724.6,685.1 1723.3,686.7" stroke-width="2.3"/>
<path d="M1718,611 C1719.8,612.8 1726.5,618.5 1729,622 C1731.5,625.5 1732,627.7 1733,632 C1734,636.3 1735,642.7 1735,648 C1735,653.3 1734.5,659.3 1733,664 C1731.5,668.7 1728.2,672.7 1726,676 C1723.8,679.3 1721,682.7 1720,684" stroke-width="1.7"/>
<line x1="1718" y1="630.7" x2="1733" y2="638" stroke-width="2.8"/>
<line x1="1718" y1="648" x2="1735" y2="648" stroke-width="3"/>
<line x1="1718" y1="665" x2="1733" y2="657" stroke-width="2.8"/>
<line x1="1717" y1="608" x2="1735" y2="630" stroke-width="1.8"/>
<line x1="1720" y1="686" x2="1735" y2="663" stroke-width="1.8"/>
<path d="M1644.7,623 L1657,617 L1668,614.5 Q1671,615 1671,620 L1670.6,648 L1660,648 Q1650,647 1647,641" stroke-width="2.2" fill="#fff"/>
<line x1="1666" y1="616" x2="1666" y2="649" stroke-width="1.7"/>
<path d="M1602,648 L1644,623.5 L1646,641.3 L1610,661 Z" stroke-width="0" fill="#fff" stroke="none"/>
<line x1="1602" y1="648" x2="1643" y2="624" stroke-width="2.2"/>
<line x1="1610" y1="661" x2="1646" y2="641.3" stroke-width="2.2"/>
<line x1="1644.7" y1="623" x2="1646" y2="641" stroke-width="3"/>
<path d="M1646,657.3 C1648.3,656.9 1654.9,656.8 1660,655 C1665.1,653.2 1673.9,648.1 1676.7,646.7" stroke-width="2"/>
<path d="M1647.3,680 C1649.8,679.5 1656.9,678.7 1662,677 C1667.1,675.3 1675.3,671.2 1678,670" stroke-width="2"/>
<path d="M1638,643 L1643,643 L1656,724" stroke-width="3.9"/>
<path d="M1626,650 C1626.2,653 1626.5,663.2 1627,668 C1627.5,672.8 1628.3,677 1629,679 C1629.7,681 1630.7,683.2 1631,680 C1631.3,676.8 1631,663.3 1631,660" stroke-width="1.8"/>
<line x1="1618" y1="689.3" x2="1646" y2="689.3" stroke-width="2.1"/>
<line x1="1622" y1="705.5" x2="1647.3" y2="706.6" stroke-width="2.1"/>
<line x1="1647.7" y1="690" x2="1647.7" y2="846.7" stroke-width="1.8"/>
<line x1="1647" y1="690" x2="1656" y2="724" stroke-width="3.4"/>
<path d="M1711,738 Q1711,736.5 1714,736.5 L1734,736.5 Q1736.3,737 1736.3,740 L1736.3,751.2 L1710.4,751.2 Z" stroke-width="2.5"/>
<path d="M1710.4,761.6 L1736.3,761.6 L1736.3,774 Q1736.3,777.1 1733,777.1 L1713,777.1 Q1710.4,777 1710.4,774 Z" stroke-width="2.5"/>
<line x1="1710.4" y1="751" x2="1710.4" y2="762" stroke-width="2.3"/>
<line x1="1718.7" y1="751" x2="1718.7" y2="762" stroke-width="2.3"/>
<line x1="1725" y1="751" x2="1725" y2="762" stroke-width="2.3"/>
<line x1="1738" y1="741" x2="1738" y2="774" stroke-width="2.1"/>
<line x1="1635.7" y1="745.5" x2="1710.4" y2="745.5" stroke-width="2.3"/>
<line x1="1647" y1="764.2" x2="1710.4" y2="764.2" stroke-width="2.3"/>
<path d="M307,712 Q307,710 310,710 L324.7,710 L326,706 L332,706 L334.7,712 L334.7,726.7 L306.7,726.7 Z" stroke-width="2.6"/>
<path d="M307.3,735.3 L335.3,735.3 L335.3,751 L333,753.3 L318,753.3 L317,755 L309,755 L307.3,753 Z" stroke-width="2.6"/>
<path d="M305.5,714.7 L305.5,750" stroke-width="5.2"/>
<line x1="307" y1="728.3" x2="334" y2="728.3" stroke-width="1.8"/>
<line x1="307" y1="733.3" x2="334" y2="733.3" stroke-width="1.8"/>
<line x1="326" y1="728" x2="326" y2="734" stroke-width="1.7"/>
<line x1="330" y1="728" x2="330" y2="734" stroke-width="1.7"/>
<path d="M334.7,720 C336.4,720.5 341.4,722.2 345,723 C348.6,723.8 354.2,724.4 356,724.7" stroke-width="2.1"/>
<path d="M335.3,740 C336.6,740.4 340.6,741.8 343,742.5 C345.4,743.2 348.8,743.8 350,744" stroke-width="2.1"/>
<line x1="980" y1="381.9" x2="995.2" y2="367.6" stroke-width="1.5"/>
<line x1="986.7" y1="377.5" x2="999.2" y2="365.8" stroke-width="0.9"/>
<line x1="981" y1="384.6" x2="996.7" y2="370" stroke-width="1.5"/>
<line x1="982.8" y1="384.7" x2="997" y2="371.5" stroke-width="1.1"/>
<line x1="984.5" y1="385" x2="997.2" y2="373.1" stroke-width="1.1"/>
<line x1="988.6" y1="383" x2="1001.2" y2="371.2" stroke-width="0.9"/>
<line x1="986.8" y1="386.5" x2="1005.1" y2="369.4" stroke-width="0.9"/>
<line x1="986.7" y1="388.4" x2="1004.5" y2="371.8" stroke-width="0.9"/>
<line x1="993.3" y1="384.1" x2="1005.8" y2="372.4" stroke-width="1.1"/>
<line x1="990.3" y1="388.7" x2="1006.5" y2="373.6" stroke-width="1.5"/>
<line x1="1091.9" y1="410.2" x2="1119.4" y2="387.2" stroke-width="0.9"/>
<line x1="1091.7" y1="412.1" x2="1115.4" y2="392.2" stroke-width="0.9"/>
<line x1="1089.9" y1="415.4" x2="1118.4" y2="391.4" stroke-width="0.9"/>
<line x1="1089.8" y1="417.2" x2="1121.9" y2="390.3" stroke-width="1.1"/>
<line x1="1087.4" y1="421" x2="1121.5" y2="392.4" stroke-width="1.1"/>
<line x1="1096.1" y1="415.4" x2="1126.3" y2="390" stroke-width="1.1"/>
<line x1="1096.9" y1="416.5" x2="1124.2" y2="393.6" stroke-width="1.5"/>
<line x1="1084.9" y1="428.3" x2="1120.8" y2="398.2" stroke-width="1.1"/>
<line x1="1097.5" y1="419.4" x2="1128.9" y2="393.1" stroke-width="1.5"/>
<line x1="1095.9" y1="422.5" x2="1125.9" y2="397.4" stroke-width="0.9"/>
<line x1="1097.4" y1="423" x2="1121.5" y2="402.8" stroke-width="1.1"/>
<line x1="1098.8" y1="423.6" x2="1123.5" y2="402.9" stroke-width="0.9"/>
<line x1="1087.5" y1="434.8" x2="1126.7" y2="401.9" stroke-width="1.5"/>
<line x1="1201.2" y1="351.1" x2="1215.5" y2="335.8" stroke-width="1.1"/>
<line x1="1200.4" y1="354.1" x2="1212.8" y2="340.7" stroke-width="1.1"/>
<line x1="1201" y1="355.5" x2="1215.4" y2="340.1" stroke-width="0.9"/>
<line x1="1200.7" y1="357.9" x2="1218" y2="339.4" stroke-width="1.5"/>
<line x1="1206.6" y1="353.7" x2="1216.9" y2="342.7" stroke-width="1.1"/>
<line x1="1206.7" y1="355.6" x2="1221.6" y2="339.7" stroke-width="1.1"/>
<line x1="1206" y1="358.5" x2="1218" y2="345.6" stroke-width="1.5"/>
<line x1="1209.7" y1="356.6" x2="1222.3" y2="343.2" stroke-width="1.1"/>
<line x1="1257.1" y1="426.8" x2="1270.1" y2="415.1" stroke-width="0.9"/>
<line x1="1259.3" y1="427.5" x2="1272.7" y2="415.4" stroke-width="1.5"/>
<line x1="1261.1" y1="428.6" x2="1274.9" y2="416.2" stroke-width="1.1"/>
<line x1="1263.6" y1="429" x2="1275.8" y2="418" stroke-width="1.5"/>
<line x1="113.7" y1="910" x2="458.5" y2="910" stroke-width="2"/>
<path d="M463,911.5 L660,911.5" stroke-width="5.8"/>
<line x1="660" y1="910.5" x2="685" y2="910.5" stroke-width="3.4"/>
<line x1="685" y1="910" x2="811.5" y2="910" stroke-width="1.7"/>
<line x1="1150.7" y1="911" x2="1816.6" y2="913" stroke-width="2"/>
<path d="M1315,913.5 L1640,915.5" stroke-width="4.1"/>
<line x1="1440" y1="911.5" x2="1690" y2="913.5" stroke-width="1.7"/>
<line x1="1300" y1="917.5" x2="1740" y2="918" stroke-width="1.1"/>
<text fill="#000" stroke="none" transform="translate(1664.7 918.5) rotate(0) skewX(-13)" x="0" y="0" font-family="Liberation Sans" font-size="7.6" font-weight="normal" font-style="italic" textLength="27" lengthAdjust="spacingAndGlyphs">ACR</text>
<line x1="221.7" y1="540.7" x2="497" y2="540" stroke-width="1.8"/>
<line x1="231.4" y1="545" x2="231.4" y2="654" stroke-width="1.8"/>
<line x1="232" y1="700" x2="233.5" y2="905" stroke-width="1.8"/>
<path d="M232.5,541 L234.2,557 L228.6,557 L230.3,541Z" fill="#000" stroke="none"/>
<path d="M232.4,909 L230.7,893 L236.3,893 L234.6,909Z" fill="#000" stroke="none"/>
<text fill="#000" transform="translate(240 697.1) rotate(-90) skewX(-13)" x="0" y="0" font-family="Liberation Sans" font-size="22.2" font-weight="bold" font-style="italic" textLength="24" lengthAdjust="spacingAndGlyphs" stroke="#000" stroke-width="0.5">38</text>
<text fill="#000" transform="translate(228.5 673.9) rotate(-90) skewX(-13)" x="0" y="0" font-family="Liberation Sans" font-size="12.5" font-weight="bold" font-style="italic" textLength="13" lengthAdjust="spacingAndGlyphs" stroke="#000" stroke-width="0.3">11</text>
<text fill="#000" transform="translate(245 668.8) rotate(-90) skewX(-13)" x="0" y="0" font-family="Liberation Sans" font-size="13.9" font-weight="bold" font-style="italic" textLength="15" lengthAdjust="spacingAndGlyphs" stroke="#000" stroke-width="0.3">16</text>
<line x1="222" y1="670" x2="242" y2="662" stroke-width="1.6"/>
<line x1="261.7" y1="730.7" x2="343" y2="730.7" stroke-width="1.8"/>
<line x1="276" y1="735" x2="276" y2="784" stroke-width="1.8"/>
<line x1="276" y1="825" x2="276.3" y2="905" stroke-width="1.8"/>
<path d="M277.1,731.5 L278.8,747.5 L273.2,747.5 L274.9,731.5Z" fill="#000" stroke="none"/>
<path d="M275.2,909 L273.5,893 L279.1,893 L277.4,909Z" fill="#000" stroke="none"/>
<text fill="#000" transform="translate(281 822.5) rotate(-90) skewX(-13)" x="0" y="0" font-family="Liberation Sans" font-size="17.4" font-weight="bold" font-style="italic" textLength="17" lengthAdjust="spacingAndGlyphs" stroke="#000" stroke-width="0.4">10</text>
<text fill="#000" transform="translate(271 806.9) rotate(-90) skewX(-13)" x="0" y="0" font-family="Liberation Sans" font-size="12.5" font-weight="bold" font-style="italic" textLength="12" lengthAdjust="spacingAndGlyphs" stroke="#000" stroke-width="0.3">11</text>
<text fill="#000" transform="translate(287.5 801.8) rotate(-90) skewX(-13)" x="0" y="0" font-family="Liberation Sans" font-size="13.9" font-weight="bold" font-style="italic" textLength="14" lengthAdjust="spacingAndGlyphs" stroke="#000" stroke-width="0.3">16</text>
<line x1="265" y1="802" x2="284" y2="795" stroke-width="1.5"/>
<line x1="305.5" y1="752" x2="305.5" y2="987" stroke-width="1.8"/>
<line x1="306" y1="942.2" x2="368" y2="942.2" stroke-width="1.7"/>
<line x1="402" y1="942.2" x2="482" y2="942.2" stroke-width="1.7"/>
<path d="M306,941.1 L320,939.7 L320,944.7 L306,943.3Z" fill="#000" stroke="none"/>
<path d="M487.5,943.3 L473.5,944.7 L473.5,939.7 L487.5,941.1Z" fill="#000" stroke="none"/>
<text fill="#000" transform="translate(375.6 950) rotate(0) skewX(-13)" x="0" y="0" font-family="Liberation Sans" font-size="18.1" font-weight="normal" font-style="italic" textLength="22" lengthAdjust="spacingAndGlyphs" stroke="#000" stroke-width="0.5">20</text>
<line x1="488" y1="762" x2="488" y2="960" stroke-width="1.7"/>
<line x1="1460" y1="770" x2="1460" y2="957" stroke-width="1.7"/>
<line x1="488" y1="942.3" x2="600" y2="942.3" stroke-width="1.5"/>
<line x1="600" y1="942.3" x2="834" y2="942.3" stroke-width="0.7" stroke="#888"/>
<line x1="834" y1="942.4" x2="1030.6" y2="942.4" stroke-width="1.8"/>
<line x1="1104.6" y1="942.7" x2="1455" y2="942.7" stroke-width="1.7"/>
<path d="M488.5,941.2 L502.5,939.8 L502.5,944.8 L488.5,943.4Z" fill="#000" stroke="none"/>
<path d="M1459.5,943.8 L1445.5,945.2 L1445.5,940.2 L1459.5,941.6Z" fill="#000" stroke="none"/>
<text fill="#000" transform="translate(1036.6 950) rotate(0) skewX(-13)" x="0" y="0" font-family="Liberation Sans" font-size="18.1" font-weight="normal" font-style="italic" textLength="32" lengthAdjust="spacingAndGlyphs" stroke="#000" stroke-width="0.5">103</text>
<text fill="#000" transform="translate(1075.4 940) rotate(0) skewX(-13)" x="0" y="0" font-family="Liberation Sans" font-size="16" font-weight="bold" font-style="italic" textLength="22" lengthAdjust="spacingAndGlyphs" stroke="#000" stroke-width="0.2">15</text>
<text fill="#000" transform="translate(1072.4 957) rotate(0) skewX(-13)" x="0" y="0" font-family="Liberation Sans" font-size="16.7" font-weight="bold" font-style="italic" textLength="26" lengthAdjust="spacingAndGlyphs" stroke="#000" stroke-width="0.2">32</text>
<line x1="1073" y1="942.5" x2="1092" y2="942.5" stroke-width="1.5"/>
<line x1="1460.5" y1="945.5" x2="1540" y2="945.5" stroke-width="1.7"/>
<line x1="1614" y1="945.5" x2="1738" y2="945.7" stroke-width="1.7"/>
<path d="M1460.5,944.4 L1474.5,943 L1474.5,948 L1460.5,946.6Z" fill="#000" stroke="none"/>
<path d="M1737.5,946.8 L1723.5,948.2 L1723.5,943.2 L1737.5,944.6Z" fill="#000" stroke="none"/>
<text fill="#000" transform="translate(1561.6 950) rotate(0) skewX(-13)" x="0" y="0" font-family="Liberation Sans" font-size="18.1" font-weight="normal" font-style="italic" textLength="24" lengthAdjust="spacingAndGlyphs" stroke="#000" stroke-width="0.5">29</text>
<text fill="#000" transform="translate(1588.3 944) rotate(0) skewX(-13)" x="0" y="0" font-family="Liberation Sans" font-size="15.3" font-weight="bold" font-style="italic" textLength="6" lengthAdjust="spacingAndGlyphs" stroke="#000" stroke-width="0.2">1</text>
<text fill="#000" transform="translate(1585.3 958) rotate(0) skewX(-13)" x="0" y="0" font-family="Liberation Sans" font-size="15.3" font-weight="bold" font-style="italic" textLength="13" lengthAdjust="spacingAndGlyphs" stroke="#000" stroke-width="0.3">4</text>
<line x1="1584" y1="946" x2="1596" y2="946" stroke-width="1.5"/>
<line x1="306" y1="976.5" x2="829" y2="976.7" stroke-width="1.7"/>
<line x1="913.6" y1="977" x2="1738" y2="979.5" stroke-width="1.7"/>
<path d="M306,975.4 L320,974 L320,979 L306,977.6Z" fill="#000" stroke="none"/>
<path d="M1737.5,980.6 L1723.5,982 L1723.5,977 L1737.5,978.4Z" fill="#000" stroke="none"/>
<text fill="#000" transform="translate(835.6 983) rotate(0) skewX(-13)" x="0" y="0" font-family="Liberation Sans" font-size="18.1" font-weight="normal" font-style="italic" textLength="35" lengthAdjust="spacingAndGlyphs" stroke="#000" stroke-width="0.5">152</text>
<text fill="#000" transform="translate(882.4 974.5) rotate(0) skewX(-13)" x="0" y="0" font-family="Liberation Sans" font-size="16" font-weight="bold" font-style="italic" textLength="26" lengthAdjust="spacingAndGlyphs" stroke="#000" stroke-width="0.2">23</text>
<text fill="#000" transform="translate(881.4 992) rotate(0) skewX(-13)" x="0" y="0" font-family="Liberation Sans" font-size="16" font-weight="bold" font-style="italic" textLength="26" lengthAdjust="spacingAndGlyphs" stroke="#000" stroke-width="0.2">32</text>
<line x1="881" y1="977.5" x2="903" y2="977.5" stroke-width="1.5"/>
<line x1="1738" y1="778" x2="1739" y2="995" stroke-width="1.8"/>
<line x1="1681" y1="756.2" x2="1816.6" y2="756.2" stroke-width="1.8"/>
<line x1="1797.3" y1="760" x2="1797.3" y2="820" stroke-width="1.8"/>
<line x1="1797.3" y1="857" x2="1797.3" y2="909" stroke-width="1.8"/>
<path d="M1798.4,757 L1800.1,773 L1794.5,773 L1796.2,757Z" fill="#000" stroke="none"/>
<path d="M1796.2,912 L1794.5,896 L1800.1,896 L1798.4,912Z" fill="#000" stroke="none"/>
<text fill="#000" transform="translate(1806 854.4) rotate(-90) skewX(-13)" x="0" y="0" font-family="Liberation Sans" font-size="18.1" font-weight="bold" font-style="italic" textLength="20" lengthAdjust="spacingAndGlyphs" stroke="#000" stroke-width="0.4">16</text>
<text fill="#000" transform="translate(1802 832.2) rotate(-90) skewX(-13)" x="0" y="0" font-family="Liberation Sans" font-size="9.7" font-weight="bold" font-style="italic" textLength="10" lengthAdjust="spacingAndGlyphs" stroke="#000" stroke-width="0.2">1</text>
<text fill="#000" transform="translate(1814 832) rotate(-90) skewX(-13)" x="0" y="0" font-family="Liberation Sans" font-size="11.1" font-weight="bold" font-style="italic" textLength="12" lengthAdjust="spacingAndGlyphs" stroke="#000" stroke-width="0.2">2</text>
<line x1="1804" y1="821" x2="1804" y2="833" stroke-width="1.2"/>
<line x1="789.4" y1="717" x2="789.4" y2="852" stroke-width="1.8"/>
<line x1="789.4" y1="837.3" x2="1048.8" y2="837.3" stroke-width="1.7"/>
<line x1="1118.5" y1="837.5" x2="1647.6" y2="838.3" stroke-width="1.7"/>
<path d="M790,836.2 L804,834.8 L804,839.8 L790,838.4Z" fill="#000" stroke="none"/>
<path d="M1647,839.4 L1633,840.8 L1633,835.8 L1647,837.2Z" fill="#000" stroke="none"/>
<text fill="#000" transform="translate(1052.4 845) rotate(0) skewX(-13)" x="0" y="0" font-family="Liberation Sans" font-size="16.7" font-weight="normal" font-style="italic" textLength="24" lengthAdjust="spacingAndGlyphs" stroke="#000" stroke-width="0.5">90</text>
<text fill="#000" transform="translate(1078.4 835) rotate(0) skewX(-13)" x="0" y="0" font-family="Liberation Sans" font-size="15.8" font-weight="bold" font-style="italic" textLength="22" lengthAdjust="spacingAndGlyphs" stroke="#000" stroke-width="0.2">17</text>
<text fill="#000" transform="translate(1075.4 852) rotate(0) skewX(-13)" x="0" y="0" font-family="Liberation Sans" font-size="16" font-weight="bold" font-style="italic" textLength="24" lengthAdjust="spacingAndGlyphs" stroke="#000" stroke-width="0.2">32</text>
<line x1="1076" y1="838" x2="1096" y2="838" stroke-width="1.2"/>
<line x1="737.5" y1="261.2" x2="1090" y2="254" stroke-width="1.8"/>
<line x1="759.5" y1="264" x2="759.5" y2="350" stroke-width="1.8"/>
<line x1="759.7" y1="398" x2="760.7" y2="707" stroke-width="1.8"/>
<path d="M760.6,262 L762.3,278 L756.7,278 L758.4,262Z" fill="#000" stroke="none"/>
<path d="M759.6,710 L757.9,694 L763.5,694 L761.8,710Z" fill="#000" stroke="none"/>
<text fill="#000" transform="translate(766 393.6) rotate(-90) skewX(-13)" x="0" y="0" font-family="Liberation Sans" font-size="20.3" font-weight="bold" font-style="italic" textLength="26.8" lengthAdjust="spacingAndGlyphs" stroke="#000" stroke-width="0.7">47</text>
<text fill="#000" transform="translate(754.6 362.2) rotate(-90) skewX(-13)" x="0" y="0" font-family="Liberation Sans" font-size="12.6" font-weight="bold" font-style="italic" textLength="11.3" lengthAdjust="spacingAndGlyphs" stroke="#000" stroke-width="0.4">3</text>
<text fill="#000" transform="translate(772.6 371.2) rotate(-90) skewX(-13)" x="0" y="0" font-family="Liberation Sans" font-size="15.7" font-weight="bold" font-style="italic" textLength="13.4" lengthAdjust="spacingAndGlyphs" stroke="#000" stroke-width="0.5">4</text>
<line x1="759" y1="356" x2="759" y2="364" stroke-width="1.6"/>
<line x1="905" y1="347.5" x2="1067.5" y2="346.7" stroke-width="1.7"/>
<line x1="1112" y1="346.5" x2="1160" y2="346" stroke-width="1.7"/>
<path d="M906,346.4 L920,345 L920,350 L906,348.6Z" fill="#000" stroke="none"/>
<path d="M1160,347.1 L1146,348.5 L1146,343.5 L1160,344.9Z" fill="#000" stroke="none"/>
<text fill="#000" transform="translate(1069.7 351.9) rotate(0) skewX(-13)" x="0" y="0" font-family="Liberation Sans" font-size="16" font-weight="bold" font-style="italic" textLength="19.4" lengthAdjust="spacingAndGlyphs" stroke="#000" stroke-width="0.7">26</text>
<text fill="#000" transform="translate(1091.1 345) rotate(0) skewX(-13)" x="0" y="0" font-family="Liberation Sans" font-size="12.5" font-weight="bold" font-style="italic" textLength="12" lengthAdjust="spacingAndGlyphs" stroke="#000" stroke-width="0.4">7</text>
<text fill="#000" transform="translate(1089.4 359.6) rotate(0) skewX(-13)" x="0" y="0" font-family="Liberation Sans" font-size="16.1" font-weight="bold" font-style="italic" textLength="12" lengthAdjust="spacingAndGlyphs" stroke="#000" stroke-width="0.6">8</text>
<line x1="1092" y1="346.5" x2="1100" y2="346.5" stroke-width="1.6"/>
<line x1="789" y1="536.2" x2="825" y2="536.2" stroke-width="1.7"/>
<line x1="870" y1="535.5" x2="1038" y2="535" stroke-width="1.7"/>
<path d="M789.5,535.1 L803.5,533.7 L803.5,538.7 L789.5,537.3Z" fill="#000" stroke="none"/>
<path d="M1038,536.1 L1024,537.5 L1024,532.5 L1038,533.9Z" fill="#000" stroke="none"/>
<text fill="#000" transform="translate(830.8 543.7) rotate(0) skewX(-13)" x="0" y="0" font-family="Liberation Sans" font-size="20.3" font-weight="bold" font-style="italic" textLength="23.2" lengthAdjust="spacingAndGlyphs" stroke="#000" stroke-width="0.8">26</text>
<text fill="#000" transform="translate(856.4 531.4) rotate(0) skewX(-13)" x="0" y="0" font-family="Liberation Sans" font-size="14.2" font-weight="bold" font-style="italic" textLength="22.5" lengthAdjust="spacingAndGlyphs" stroke="#000" stroke-width="0.5">25</text>
<text fill="#000" transform="translate(853.8 543.7) rotate(0) skewX(-13)" x="0" y="0" font-family="Liberation Sans" font-size="13.5" font-weight="bold" font-style="italic" textLength="17.2" lengthAdjust="spacingAndGlyphs" stroke="#000" stroke-width="0.5">32</text>
<line x1="851" y1="547.5" x2="870" y2="548" stroke-width="1.7"/>
<line x1="665" y1="712.5" x2="866" y2="548" stroke-width="1.7"/>
<line x1="877" y1="539" x2="985" y2="450" stroke-width="1.7"/>
<path d="M941,512 L1078,510.7" stroke-width="3.4"/>
<line x1="956" y1="512" x2="956" y2="557" stroke-width="1.8"/>
<line x1="956" y1="603" x2="956" y2="707" stroke-width="1.8"/>
<path d="M957.1,512.5 L958.8,528.5 L953.2,528.5 L954.9,512.5Z" fill="#000" stroke="none"/>
<path d="M954.9,708 L953.2,692 L958.8,692 L957.1,708Z" fill="#000" stroke="none"/>
<line x1="1039" y1="500" x2="1039" y2="559" stroke-width="1.8"/>
<line x1="994" y1="542" x2="994" y2="598" stroke-width="1.8"/>
<line x1="996" y1="549" x2="1008" y2="549" stroke-width="1.7" stroke-dasharray="5 3"/>
<line x1="1026" y1="549" x2="1037" y2="549" stroke-width="1.7" stroke-dasharray="5 3"/>
<path d="M996,547.9 L1010,546.5 L1010,551.5 L996,550.1Z" fill="#000" stroke="none"/>
<path d="M1038,550.1 L1024,551.5 L1024,546.5 L1038,547.9Z" fill="#000" stroke="none"/>
<text fill="#000" transform="translate(1013.3 555.5) rotate(0) skewX(-13)" x="0" y="0" font-family="Liberation Sans" font-size="14.6" font-weight="bold" font-style="italic" textLength="10" lengthAdjust="spacingAndGlyphs" stroke="#000" stroke-width="0.6">6</text>
<line x1="995" y1="566" x2="1082" y2="566" stroke-width="1.7"/>
<line x1="1106" y1="566" x2="1158" y2="566" stroke-width="1.7" stroke-dasharray="30 4"/>
<path d="M996,564.9 L1010,563.5 L1010,568.5 L996,567.1Z" fill="#000" stroke="none"/>
<path d="M1157,567.1 L1143,568.5 L1143,563.5 L1157,564.9Z" fill="#000" stroke="none"/>
<text fill="#000" transform="translate(1085.6 572) rotate(0) skewX(-13)" x="0" y="0" font-family="Liberation Sans" font-size="18.1" font-weight="normal" font-style="italic" textLength="14" lengthAdjust="spacingAndGlyphs" stroke="#000" stroke-width="0.5">17</text>
<line x1="1064.5" y1="515" x2="1064.5" y2="527" stroke-width="1.8"/>
<line x1="1064.5" y1="556" x2="1064.5" y2="578" stroke-width="1.8"/>
<path d="M1063.4,528 L1062,514 L1067,514 L1065.6,528Z" fill="#000" stroke="none"/>
<path d="M1063.4,579 L1062,565 L1067,565 L1065.6,579Z" fill="#000" stroke="none"/>
<text fill="#000" transform="translate(1054.4 538) rotate(0) skewX(-13)" x="0" y="0" font-family="Liberation Sans" font-size="27.8" font-weight="bold" font-style="italic" textLength="10" lengthAdjust="spacingAndGlyphs" stroke="#000" stroke-width="0.8">6</text>
<text fill="#000" transform="translate(1068.8 541.5) rotate(0) skewX(-13)" x="0" y="0" font-family="Liberation Sans" font-size="16" font-weight="bold" font-style="italic" textLength="10.2" lengthAdjust="spacingAndGlyphs" stroke="#000" stroke-width="0.5">5</text>
<text fill="#000" transform="translate(1056.9 555.8) rotate(0) skewX(-13)" x="0" y="0" font-family="Liberation Sans" font-size="17.8" font-weight="bold" font-style="italic" textLength="14.3" lengthAdjust="spacingAndGlyphs" stroke="#000" stroke-width="0.5">16</text>
<line x1="1067" y1="540" x2="1076" y2="547.5" stroke-width="1.7"/>
<line x1="972" y1="579" x2="1078" y2="579" stroke-width="1.8"/>
<line x1="977" y1="580" x2="977" y2="614" stroke-width="1.8"/>
<line x1="977" y1="647" x2="977" y2="697" stroke-width="1.8"/>
<path d="M978.1,581 L979.5,595 L974.5,595 L975.9,581Z" fill="#000" stroke="none"/>
<path d="M975.9,697 L974.5,683 L979.5,683 L978.1,697Z" fill="#000" stroke="none"/>
<text fill="#000" transform="translate(983 645.4) rotate(-90) skewX(-13)" x="0" y="0" font-family="Liberation Sans" font-size="18.1" font-weight="bold" font-style="italic" textLength="19" lengthAdjust="spacingAndGlyphs" stroke="#000" stroke-width="0.5">12</text>
<text fill="#000" transform="translate(973 625) rotate(-90) skewX(-13)" x="0" y="0" font-family="Liberation Sans" font-size="11.1" font-weight="bold" font-style="italic" textLength="10" lengthAdjust="spacingAndGlyphs" stroke="#000" stroke-width="0.3">1</text>
<text fill="#000" transform="translate(988 626.8) rotate(-90) skewX(-13)" x="0" y="0" font-family="Liberation Sans" font-size="13.9" font-weight="bold" font-style="italic" textLength="14" lengthAdjust="spacingAndGlyphs" stroke="#000" stroke-width="0.5">4</text>
<text fill="#000" transform="translate(958 599.3) rotate(-90) skewX(-13)" x="0" y="0" font-family="Liberation Sans" font-size="19.4" font-weight="bold" font-style="italic" textLength="21" lengthAdjust="spacingAndGlyphs" stroke="#000" stroke-width="0.5">20</text>
<text fill="#000" transform="translate(946 576) rotate(-90) skewX(-13)" x="0" y="0" font-family="Liberation Sans" font-size="11.1" font-weight="bold" font-style="italic" textLength="14" lengthAdjust="spacingAndGlyphs" stroke="#000" stroke-width="0.3">21</text>
<text fill="#000" transform="translate(960 575.9) rotate(-90) skewX(-13)" x="0" y="0" font-family="Liberation Sans" font-size="12.5" font-weight="bold" font-style="italic" textLength="17" lengthAdjust="spacingAndGlyphs" stroke="#000" stroke-width="0.3">32</text>
<line x1="1040" y1="508" x2="1100.5" y2="522" stroke-width="1.8"/>
<line x1="1134" y1="529" x2="1180" y2="540" stroke-width="1.8"/>
<text fill="#000" transform="translate(1098.6 534.1) rotate(0) skewX(-13)" x="0" y="0" font-family="Liberation Sans" font-size="23.8" font-weight="bold" font-style="italic" textLength="18.2" lengthAdjust="spacingAndGlyphs" stroke="#000" stroke-width="0.7">13</text>
<text fill="#000" transform="translate(1121.1 526.1) rotate(0) skewX(-13)" x="0" y="0" font-family="Liberation Sans" font-size="12.6" font-weight="bold" font-style="italic" textLength="7.3" lengthAdjust="spacingAndGlyphs" stroke="#000" stroke-width="0.5">7</text>
<text fill="#000" transform="translate(1130 524) rotate(0) skewX(-13)" x="0" y="0" font-family="Liberation Sans" font-size="11.1" font-weight="bold" font-style="italic" textLength="11" lengthAdjust="spacingAndGlyphs" stroke="#000" stroke-width="0.3">R</text>
<line x1="1117" y1="529.5" x2="1126" y2="530.5" stroke-width="2.1"/>
<text fill="#000" transform="translate(1113.6 543.8) rotate(0) skewX(-13)" x="0" y="0" font-family="Liberation Sans" font-size="14.3" font-weight="bold" font-style="italic" textLength="13.7" lengthAdjust="spacingAndGlyphs" stroke="#000" stroke-width="0.5">16</text>
<line x1="1158" y1="558" x2="1158" y2="572" stroke-width="1.8"/>
<line x1="1158" y1="616" x2="1158" y2="625" stroke-width="1.8"/>
<path d="M1156.9,626 L1155.5,612 L1160.5,612 L1159.1,626Z" fill="#000" stroke="none"/>
<text fill="#000" transform="translate(1152 614.2) rotate(-90) skewX(-13)" x="0" y="0" font-family="Liberation Sans" font-size="20.8" font-weight="bold" font-style="italic" textLength="26" lengthAdjust="spacingAndGlyphs" stroke="#000" stroke-width="0.5">20</text>
<text fill="#000" transform="translate(1142 586) rotate(-90) skewX(-13)" x="0" y="0" font-family="Liberation Sans" font-size="11.1" font-weight="bold" font-style="italic" textLength="11" lengthAdjust="spacingAndGlyphs" stroke="#000" stroke-width="0.3">1</text>
<text fill="#000" transform="translate(1157 584.8) rotate(-90) skewX(-13)" x="0" y="0" font-family="Liberation Sans" font-size="13.9" font-weight="bold" font-style="italic" textLength="14" lengthAdjust="spacingAndGlyphs" stroke="#000" stroke-width="0.3">2</text>
<line x1="996" y1="584" x2="1010" y2="654" stroke-width="1.8" stroke-dasharray="8 4"/>
<line x1="1010" y1="654" x2="1174" y2="677" stroke-width="1.8" stroke-dasharray="10 5 2 5"/>
<line x1="1000" y1="582" x2="1160" y2="626" stroke-width="1.8" stroke-dasharray="10 6"/>
<line x1="1132" y1="617" x2="1160" y2="626" stroke-width="1.8"/>
<line x1="905" y1="617.5" x2="995" y2="592.5" stroke-width="1.7"/>
<line x1="882" y1="622" x2="903" y2="618" stroke-width="1.7"/>
<rect x="903" y="620" width="6.5" height="12" stroke-width="1.5"/>
<text fill="#000" transform="translate(868.2 632) rotate(0) skewX(-13)" x="0" y="0" font-family="Liberation Sans" font-size="25" font-weight="bold" font-style="italic" textLength="14" lengthAdjust="spacingAndGlyphs" stroke="#000" stroke-width="0.6">17</text>
<text fill="#000" transform="translate(856 649) rotate(-24) skewX(-13)" x="0" y="0" font-family="Liberation Sans" font-size="9.5" font-weight="bold" font-style="italic" textLength="48" lengthAdjust="spacingAndGlyphs" stroke="#000" stroke-width="0.5">APPROX.</text>
<line x1="792.5" y1="636.6" x2="825" y2="630" stroke-width="1.8" stroke-dasharray="8 4"/>
<line x1="798" y1="640.5" x2="825" y2="635.5" stroke-width="1.8" stroke-dasharray="8 4"/>
<text fill="#000" transform="translate(831.6 641) rotate(0) skewX(-13)" x="0" y="0" font-family="Liberation Sans" font-size="30.6" font-weight="normal" font-style="italic" textLength="11" lengthAdjust="spacingAndGlyphs" stroke="#000" stroke-width="0.9">3</text>
<path d="M840,631.5 L860.6,628" stroke-width="3.4"/>
<path d="M940,392.5 Q942,387 948,390 L993,445 M940,392.5 L983,447" stroke-width="2.1"/>
<line x1="983" y1="447" x2="1030" y2="510" stroke-width="1.8" stroke-dasharray="8 4"/>
<line x1="993" y1="445" x2="1033" y2="495" stroke-width="1.8" stroke-dasharray="8 4"/>
<line x1="795" y1="655" x2="828" y2="695" stroke-width="1.8" stroke-dasharray="8 4"/>
<line x1="800" y1="652" x2="833" y2="692" stroke-width="1.8" stroke-dasharray="8 4"/>
<path d="M789,652 L776,643 Q768,639 770,636 Q773,633 778,637 L786,645" stroke-width="2"/>
<path d="M775,707 L786,697" stroke-width="1.8"/>
<text fill="#000" stroke="none" x="881" y="1037.7" font-family="Liberation Serif" font-size="26.5" font-weight="bold" font-style="italic" textLength="136.6" lengthAdjust="spacingAndGlyphs">The Coupe</text>
<text fill="#000" stroke="none" x="737.5" y="1070.4" font-family="Liberation Serif" font-size="20" font-weight="bold" font-style="italic" letter-spacing="2" textLength="409.5" lengthAdjust="spacingAndGlyphs">Dimensions same for De Luxe Coupe</text>
<text fill="#000" x="905.6" y="1137" font-family="Liberation Serif" font-size="45" textLength="85.2" lengthAdjust="spacingAndGlyphs" stroke="#000" stroke-width="0.8">1930</text>
<text fill="#000" transform="translate(60 566) rotate(90)" x="0" y="0" font-family="Liberation Serif" font-size="26" stroke="#000" stroke-width="1.6" textLength="21" lengthAdjust="spacingAndGlyphs">18</text></g></svg>
</body></html>
